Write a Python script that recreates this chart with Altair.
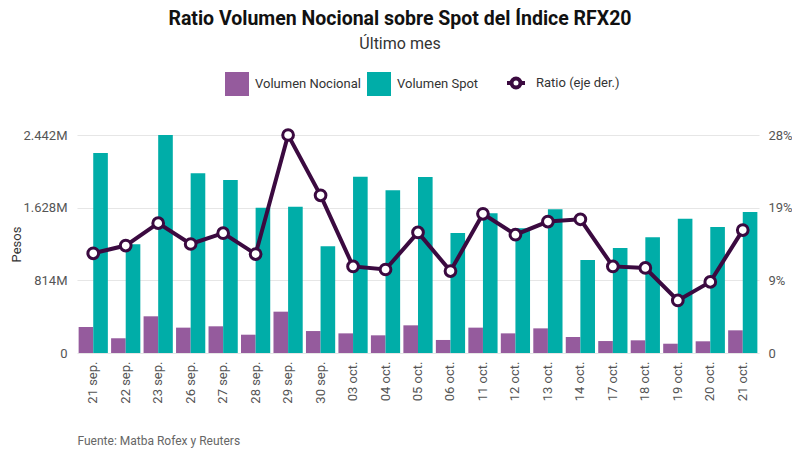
import altair as alt
import pandas as pd

fechas = ["21 sep.", "22 sep.", "23 sep.", "26 sep.", "27 sep.", "28 sep.", "29 sep.",
          "30 sep.", "03 oct.", "04 oct.", "05 oct.", "06 oct.", "11 oct.", "12 oct.",
          "13 oct.", "14 oct.", "17 oct.", "18 oct.", "19 oct.", "20 oct.", "21 oct."]
nocional = [291, 165, 411, 284, 299, 205, 463, 246, 220, 198, 310, 146, 284, 220,
            276, 179, 134, 142, 104, 131, 254]
spot = [2240, 1218, 2442, 2013, 1938, 1628, 1639, 1195, 1975, 1822, 1971, 1344, 1565,
        1397, 1609, 1042, 1176, 1296, 1505, 1411, 1579]
ratio = [12.9, 13.9, 16.8, 14.1, 15.5, 12.8, 28.2, 20.4, 11.2, 10.8, 15.6, 10.6, 18.0,
         15.3, 17.0, 17.3, 11.2, 11.0, 6.8, 9.2, 15.9]

series = ["Volumen Nocional", "Volumen Spot"]
colores = ["#955b9d", "#00ada8"]
linea = "#3b0a40"
FONT = "Roboto"

bars_df = pd.DataFrame(
    [{"fecha": f, "serie": series[0], "valor": n} for f, n in zip(fechas, nocional)]
    + [{"fecha": f, "serie": series[1], "valor": s} for f, s in zip(fechas, spot)]
)
ratio_df = pd.DataFrame({"fecha": fechas, "ratio": ratio, "serie2": "Ratio (eje der.)"})

xenc = alt.X(
    "fecha:N", sort=fechas,
    scale=alt.Scale(paddingInner=0.1, paddingOuter=0.05),
    axis=alt.Axis(
        title="Fuente: Matba Rofex y Reuters", titleAnchor="start", titleAlign="left",
        titleBaseline="middle", titleY=87, titleFont=FONT, titleFontSize=12,
        titleFontWeight="normal", titleColor="#666666",
        labelAngle=-90, labelFont=FONT, labelFontSize=13, labelColor="#555555",
        labelPadding=8, ticks=False, domain=False, grid=False,
    ),
)

bars = alt.Chart(bars_df).mark_bar().encode(
    x=xenc,
    xOffset=alt.XOffset("serie:N", sort=series),
    y=alt.Y(
        "valor:Q",
        scale=alt.Scale(domain=[0, 2442], nice=False),
        axis=alt.Axis(
            title="Pesos", titleFont=FONT, titleFontSize=13, titleFontWeight="normal",
            titleColor="#333333", titleAngle=270, titleBaseline="top",
            titleAlign="center", titleX=-67, titleY=109,
            values=[0, 814, 1628, 2442],
            labelExpr="datum.value == 0 ? '0' : replace(format(datum.value, ',d'), ',', '.') + 'M'",
            labelFont=FONT, labelFontSize=13, labelColor="#555555", labelPadding=10,
            ticks=False, domain=False, grid=True, gridColor="#e6e6e6", gridWidth=1.2,
        ),
    ),
    color=alt.Color(
        "serie:N",
        scale=alt.Scale(domain=series, range=colores),
        legend=alt.Legend(
            title=None, orient="none", legendX=148, legendY=-63, direction="horizontal",
            symbolType="square", symbolSize=576, symbolStrokeWidth=0,
            labelFont=FONT, labelFontSize=13, labelColor="#333333", labelOffset=6,
            columnPadding=6,
        ),
    ),
)

yr = alt.Y(
    "ratio:Q",
    scale=alt.Scale(domain=[0, 28.2], nice=False),
    axis=alt.Axis(
        title=None, orient="right", values=[0, 9.4, 18.8, 28.2],
        labelExpr="datum.value == 0 ? '0' : format(datum.value, '.0f') + '%'",
        labelFont=FONT, labelFontSize=13, labelColor="#555555", labelPadding=9,
        ticks=False, domain=False, grid=False,
    ),
)

line = alt.Chart(ratio_df).mark_line(color=linea, strokeWidth=4).encode(
    x=alt.X("fecha:N", sort=fechas), y=yr
)

pts = alt.Chart(ratio_df).mark_point(
    filled=False, fill="white", fillOpacity=1, strokeWidth=3, size=115, opacity=1
).encode(
    x=alt.X("fecha:N", sort=fechas),
    y=yr,
    color=alt.Color(
        "serie2:N",
        scale=alt.Scale(domain=["Ratio (eje der.)"], range=[linea]),
        legend=alt.Legend(
            title=None, orient="none", legendX=428, legendY=-63, direction="horizontal",
            symbolType="M-1,0H-0.5M0.5,0H1M0.5,0A0.5,0.5 0 1,1 -0.5,0A0.5,0.5 0 1,1 0.5,0",
            symbolSize=324, symbolStrokeWidth=4, symbolFillColor="white",
            symbolStrokeColor=linea,
            labelFont=FONT, labelFontSize=13, labelColor="#333333", labelOffset=9,
        ),
    ),
)

ratio_layer = alt.layer(line, pts)

chart = alt.layer(bars, ratio_layer).resolve_scale(
    y="independent", color="independent"
).properties(
    width=682, height=218,
    padding={"left": 69, "top": 127, "right": 33, "bottom": 96},
    autosize=alt.AutoSizeParams(type="none"),
    title=alt.Title(
        "Ratio Volumen Nocional sobre Spot del Índice RFX20",
        subtitle="Último mes",
        anchor="middle", dx=-18, offset=19,
        font=FONT, fontSize=19.5, fontWeight="bold", color="#111111",
        subtitleFont=FONT, subtitleFontSize=16, subtitleColor="#333333",
        subtitlePadding=7,
    ),
).configure_view(stroke=None)

chart.save("out.html", embed_options={"renderer": "svg", "actions": False})
